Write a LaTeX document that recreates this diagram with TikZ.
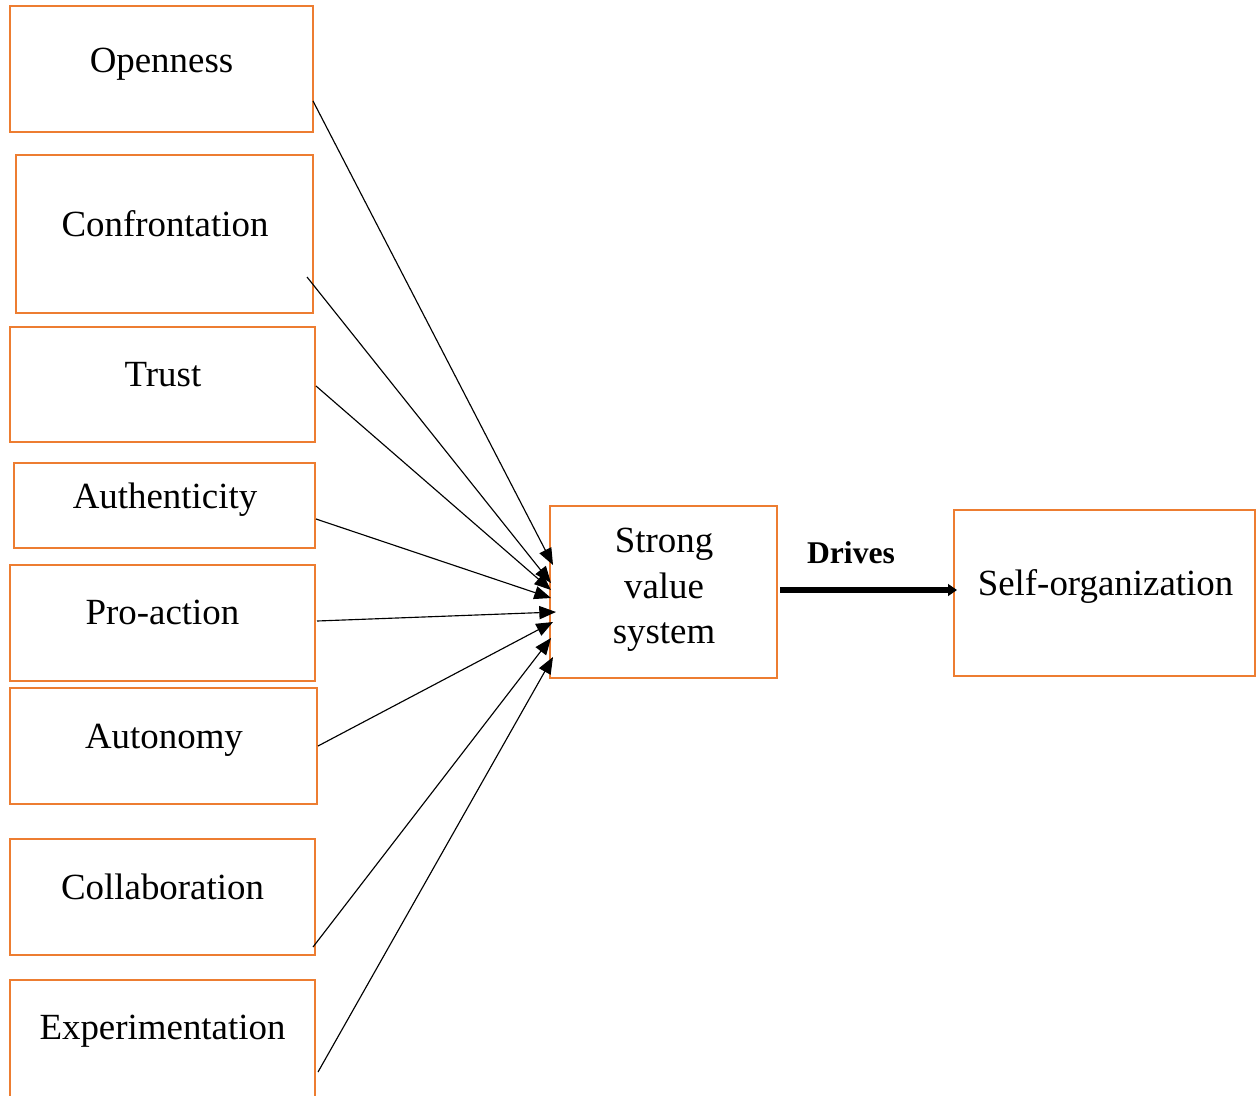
\documentclass[tikz,border=0pt]{standalone}
\usepackage{fontspec}
\setmainfont{Liberation Serif}
\usetikzlibrary{arrows.meta,calc,fit}
\definecolor{boxorange}{RGB}{237,125,49}
\tikzset{
  factor/.style={draw=boxorange, line width=1.6pt, inner sep=0pt, outer sep=0pt, rectangle},
  lbl/.style={font=\fontsize{21}{25}\selectfont, inner sep=0pt, anchor=base},
  feed/.style={line width=0.65pt, -{Triangle[length=9.5pt,width=7.5pt]}},
  drive/.style={line width=3.4pt, -{Triangle[length=5pt,width=6.5pt]}},
}
\begin{document}
\begin{tikzpicture}[x=0.02cm, y=-0.02cm]
  \useasboundingbox (0,0) rectangle (1256,1095);

  % value boxes on the left
  \node[factor, fit={(10,6) (313,132)}]    (open)   {};
  \node[factor, fit={(16,155) (313,313)}]  (conf)   {};
  \node[factor, fit={(10,327) (315,442)}]  (trust)  {};
  \node[factor, fit={(14,463) (315,548)}]  (auth)   {};
  \node[factor, fit={(10,565) (315,681)}]  (proact) {};
  \node[factor, fit={(10,688) (317,804)}]  (auton)  {};
  \node[factor, fit={(10,839) (315,955)}]  (collab) {};
  \node[factor, fit={(10,980) (315,1102)}] (exper)  {};

  % central and outcome boxes
  \node[factor, fit={(550,506) (777,678)}]  (svs)  {};
  \node[factor, fit={(954,510) (1255,676)}] (self) {};

  % labels
  \node[lbl] (l-open)   at (161.5,72)  {Openness};
  \node[lbl] (l-conf)   at (165,236)   {Confrontation};
  \node[lbl] (l-trust)  at (163,386)   {Trust};
  \node[lbl] (l-auth)   at (165,508)   {Authenticity};
  \node[lbl] (l-proact) at (162.5,624) {Pro-action};
  \node[lbl] (l-auton)  at (164,748)   {Autonomy};
  \node[lbl] (l-collab) at (162.5,899) {Collaboration};
  \node[lbl] (l-exper)  at (162.5,1039){Experimentation};
  \node[lbl] (l-svs1)   at (664,552)   {Strong};
  \node[lbl] (l-svs2)   at (664,598)   {value};
  \node[lbl] (l-svs3)   at (664,643)   {system};
  \node[lbl] (l-self)   at (1105.5,595){Self-organization};
  \node[lbl, font=\fontsize{18}{22}\selectfont\bfseries] (l-drives) at (851,563) {Drives};

  % converging connectors
  \draw[feed] ($(open.north east)+(0,95)$)    -- ($(svs.north west)+(3,59)$);
  \draw[feed] ($(conf.north east)+(-6,122)$)  -- ($(svs.north west)+(1,77)$);
  \draw[feed] ($(trust.north east)+(1,59)$)   -- ($(svs.north west)+(1,84)$);
  \draw[feed] ($(auth.north east)+(1,56)$)    -- ($(svs.north west)+(1,92)$);
  \draw[feed] ($(proact.north east)+(2,56)$)  -- ($(svs.north west)+(6,106)$);
  \draw[feed] ($(auton.north east)+(1,58)$)   -- ($(svs.north west)+(3,116)$);
  \draw[feed] ($(collab.north east)+(-2,108)$)-- ($(svs.north west)+(1,132)$);
  \draw[feed] ($(exper.north east)+(3,92)$)   -- ($(svs.north west)+(3,151)$);

  % main driver arrow
  \draw[drive] ($(svs.north east)+(3,84)$) -- ($(self.north west)+(3,80)$);
\end{tikzpicture}
\end{document}
